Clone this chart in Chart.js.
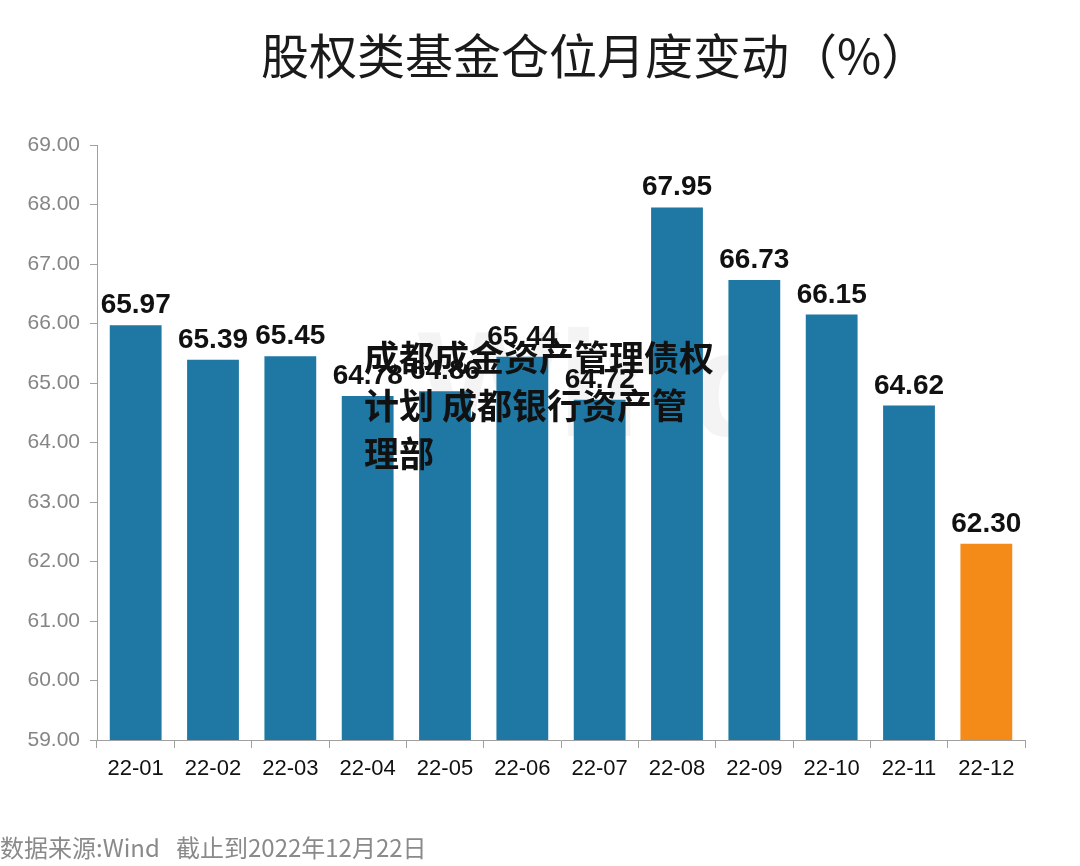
<!DOCTYPE html>
<html lang="zh">
  <head>
    <meta charset="UTF-8" />
    <title>股权类基金仓位月度变动</title>
    <script src="https://cdn.jsdelivr.net/npm/chart.js"></script>
    <style>
      body { margin: 0; background: #fff; }
      #wrap { width: 1080px; height: 866px; position: relative; }
    </style>
  </head>
  <body>
    <div id="wrap"><canvas id="posChart"></canvas></div>
    <script>
      // data
      const months = ["22-01", "22-02", "22-03", "22-04", "22-05", "22-06", "22-07", "22-08", "22-09", "22-10", "22-11", "22-12"];
      const positions = [65.97, 65.39, 65.45, 64.78, 64.86, 65.44, 64.72, 67.95, 66.73, 66.15, 64.62, 62.30];
      const barColors = months.map((m, i) => (i === months.length - 1 ? "#f48a18" : "#1f77a3"));

      const titleText = "股权类基金仓位月度变动（%）";
      const footerText = "数据来源:Wind   截止到2022年12月22日";
      const overlayLines = ["成都成金资产管理债权", "计划 成都银行资产管", "理部"];

      // title, footer, value labels and the overlay text
      const decorations = {
        id: "decorations",
        beforeDatasetsDraw(chart) {
          // faint Wind watermark behind the bars
          const ctx = chart.ctx;
          ctx.save();
          ctx.fillStyle = "#f4f4f4";
          ctx.font = "bold 150px 'Liberation Sans', Arial, sans-serif";
          ctx.textAlign = "center";
          ctx.textBaseline = "middle";
          ctx.fillText("Wind", 600, 395);
          ctx.restore();
        },
        afterDatasetsDraw(chart) {
          const ctx = chart.ctx;
          ctx.save();
          ctx.textAlign = "center";

          // value labels
          const meta = chart.getDatasetMeta(0);
          ctx.fillStyle = "#111";
          ctx.font = "bold 28px 'Liberation Sans', Arial, sans-serif";
          ctx.textBaseline = "alphabetic";
          meta.data.forEach((bar, i) => {
            ctx.fillText(positions[i].toFixed(2), bar.x, bar.y - 12);
          });

          // title
          ctx.fillStyle = "#1a1a1a";
          ctx.font = "48px 'Noto Sans CJK SC', sans-serif";
          ctx.textBaseline = "middle";
          ctx.fillText(titleText, 595, 56);

          // footer
          ctx.fillStyle = "#8a8a8a";
          ctx.font = "24px 'Noto Sans CJK SC', sans-serif";
          ctx.textAlign = "left";
          ctx.fillText(footerText, 0, 848);

          // overlay text
          ctx.fillStyle = "#111";
          ctx.font = "bold 35px 'Noto Sans CJK SC', sans-serif";
          overlayLines.forEach((line, i) => {
            ctx.fillText(line, 364, 358 + i * 48);
          });
          ctx.restore();
        },
      };

      new Chart(document.getElementById("posChart"), {
        type: "bar",
        data: {
          labels: months,
          datasets: [
            {
              data: positions,
              backgroundColor: barColors,
              categoryPercentage: 1,
              barPercentage: 0.67,
            },
          ],
        },
        options: {
          responsive: true,
          maintainAspectRatio: false,
          animation: false,
          layout: { padding: { top: 145, right: 55, left: 0, bottom: 0 } },
          plugins: {
            legend: { display: false },
            tooltip: { enabled: false },
          },
          scales: {
            x: {
              offset: true,
              grid: {
                offset: true,
                drawOnChartArea: false,
                color: "#a0a0a0",
                tickLength: 8,
              },
              border: { color: "#a0a0a0" },
              ticks: {
                color: "#111",
                padding: 8,
                font: { family: "'Liberation Sans Narrow', 'Liberation Sans', Arial", size: 22 },
              },
              afterFit: (s) => { s.height = 126; },
            },
            y: {
              min: 59,
              max: 69,
              grid: {
                drawOnChartArea: false,
                color: "#a0a0a0",
                tickLength: 7,
              },
              border: { color: "#a0a0a0" },
              ticks: {
                stepSize: 1,
                color: "#858585",
                padding: 10,
                font: { family: "'Liberation Sans', Arial", size: 21 },
                callback: (v) => Number(v).toFixed(2),
              },
              afterFit: (s) => { s.width = 97; },
            },
          },
        },
        plugins: [decorations],
      });
    </script>
  </body>
</html>
